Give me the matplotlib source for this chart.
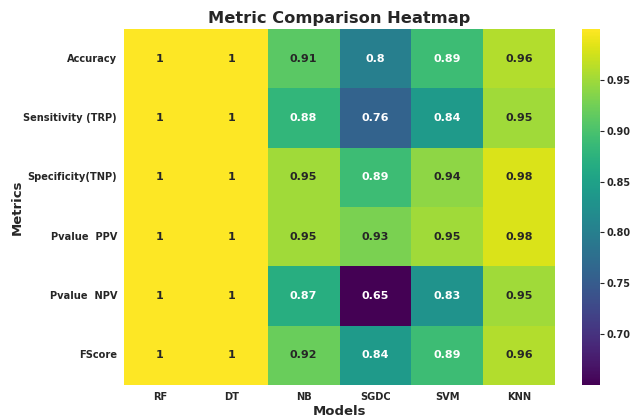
import numpy as np
import pandas as pd
import matplotlib
matplotlib.use('Agg')
import matplotlib.pyplot as plt
import seaborn as sns

models = ['RF', 'DT', 'NB', 'SGDC', 'SVM', 'KNN']
metrics = ['Accuracy', 'Sensitivity (TRP)', 'Specificity(TNP)', 'Pvalue  PPV', 'Pvalue  NPV', 'FScore']

accuracy = [1, 1, 0.91, 0.8, 0.89, 0.96]
sensitivity = [1, 1, 0.88, 0.76, 0.84, 0.95]
specificity = [1, 1, 0.95, 0.89, 0.94, 0.98]
ppv = [1, 1, 0.95, 0.93, 0.95, 0.98]
npv = [1, 1, 0.87, 0.65, 0.83, 0.95]
fscore = [1, 1, 0.92, 0.84, 0.89, 0.96]

scores = pd.DataFrame([accuracy, sensitivity, specificity, ppv, npv, fscore],
                      index=metrics, columns=models)

plt.rcParams['font.family'] = ['DejaVu Sans']

fig = plt.figure(figsize=(6.33, 4.15), dpi=100)
ax = fig.add_axes([124 / 633, 1 - 385 / 415, 431 / 633, 356 / 415])
cax = fig.add_axes([582 / 633, 1 - 385 / 415, 18 / 633, 356 / 415])

sns.heatmap(scores, annot=True, cmap='viridis', vmin=0.65, vmax=1.0,
            ax=ax, cbar_ax=cax,
            annot_kws={'fontsize': 8, 'fontweight': 'bold'})

ax.set_title('Metric Comparison Heatmap', fontsize=11.7, fontweight='bold', color='#262626', pad=4)
ax.set_xlabel('Models', fontsize=9.5, fontweight='bold', color='#262626', labelpad=2)
ax.set_ylabel('Metrics', fontsize=9.5, fontweight='bold', color='#262626')
ax.yaxis.set_label_coords(-0.232, 0.5)
ax.tick_params(length=0, pad=5, labelsize=7.1, colors='#262626')
for lbl in ax.get_xticklabels() + ax.get_yticklabels():
    lbl.set_fontweight('bold')
ax.set_yticklabels(metrics, rotation=0)

cbar = ax.collections[0].colorbar
cbar.set_ticks([0.70, 0.75, 0.80, 0.85, 0.90, 0.95])
cbar.outline.set_visible(False)
cax.tick_params(labelsize=7, length=3, width=0.8, pad=2, colors='#262626')
for lbl in cax.get_yticklabels():
    lbl.set_fontweight('bold')

fig.savefig('out.png', dpi=100)
